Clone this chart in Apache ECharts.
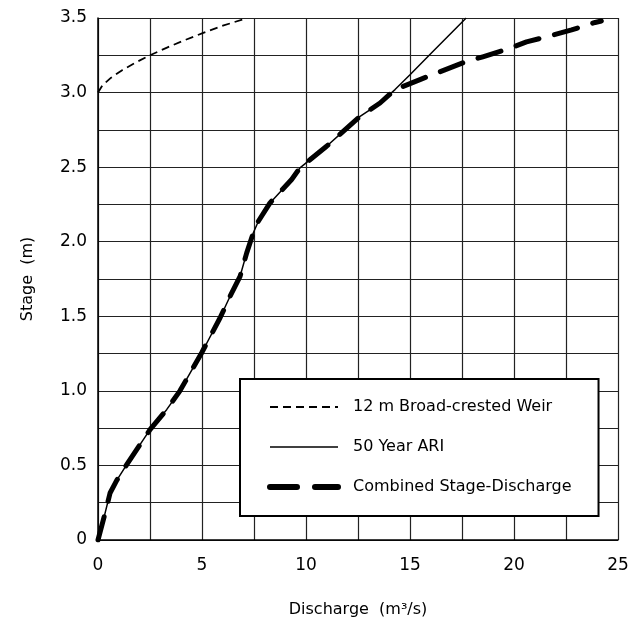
<!DOCTYPE html>
<html>
<head>
<meta charset="utf-8">
<script src="https://cdn.jsdelivr.net/npm/echarts@6/dist/echarts.min.js"></script>
<style>
  html, body { margin: 0; padding: 0; background: #fff; }
  #chart { width: 644px; height: 624px; }
</style>
</head>
<body>
<div id="chart"></div>
<script>
// 12 m broad-crested weir
var weirQ = [0, 0.22, 0.63, 1.16, 1.79, 2.5, 3.29, 4.14, 5.06, 6.04, 6.95];
var weirStage = [3.0, 3.05, 3.1, 3.15, 3.2, 3.25, 3.3, 3.35, 3.4, 3.45, 3.49];

// 50 year ARI
var ariQ = [0, 0.34, 0.58, 0.9, 1.38, 2.02, 2.5, 3.3, 3.94, 4.98, 5.87, 6.35, 6.83, 7.15, 7.47, 7.71, 8.27, 9.31, 9.71, 10.99, 11.79, 12.6, 13.56, 14.28, 15.0, 16.1, 17.7];
var ariStage = [0, 0.18, 0.315, 0.4, 0.505, 0.64, 0.74, 0.874, 1.0, 1.254, 1.49, 1.634, 1.768, 1.925, 2.06, 2.137, 2.26, 2.417, 2.495, 2.64, 2.74, 2.84, 2.93, 3.02, 3.12, 3.275, 3.5];

// combined stage-discharge
var combQ = [0, 0.34, 0.58, 0.9, 1.38, 2.02, 2.5, 3.3, 3.94, 4.98, 5.87, 6.35, 6.83, 7.15, 7.47, 7.71, 8.27, 9.31, 9.71, 10.99, 11.79, 12.6, 13.56, 14.28, 15.48, 16.44, 17.56, 18.5, 19.65, 20.6, 21.73, 22.77, 23.9, 24.2];
var combStage = [0, 0.18, 0.315, 0.4, 0.505, 0.64, 0.74, 0.874, 1.0, 1.254, 1.49, 1.634, 1.768, 1.925, 2.06, 2.137, 2.26, 2.417, 2.495, 2.64, 2.74, 2.84, 2.93, 3.02, 3.087, 3.14, 3.2, 3.24, 3.29, 3.34, 3.38, 3.42, 3.47, 3.48];

var seriesNames = ['12 m Broad-crested Weir', '50 Year ARI', 'Combined Stage-Discharge'];

function pairs(xs, ys) {
  return xs.map(function (x, i) { return [x, ys[i]]; });
}

var font = 'DejaVu Sans';
var weirLine = { color: '#000', width: 1.8, type: [8, 5] };
var ariLine = { color: '#000', width: 1.5, type: 'solid' };
var combLine = { color: '#000', width: 5, type: [24, 16], cap: 'round', join: 'round' };

var chart = echarts.init(document.getElementById('chart'));
chart.setOption({
  animation: false,
  textStyle: { fontFamily: font },
  grid: { left: 98, right: 26, top: 18, bottom: 84 },
  xAxis: {
    type: 'value',
    min: 0, max: 25, interval: 2.5,
    name: 'Discharge  (m³/s)',
    nameLocation: 'middle',
    nameGap: 62,
    nameTextStyle: { color: '#000', fontSize: 16, fontFamily: font },
    axisLine: { lineStyle: { color: '#000', width: 1.5 } },
    axisTick: { show: false },
    axisLabel: {
      color: '#000', fontSize: 17, margin: 17, fontFamily: font,
      formatter: function (v) { return v % 5 === 0 ? String(v) : ''; }
    },
    splitLine: { show: true, lineStyle: { color: '#222', width: 1.2 } }
  },
  yAxis: {
    type: 'value',
    min: 0, max: 3.5, interval: 0.25,
    name: 'Stage  (m)',
    nameLocation: 'middle',
    nameGap: 62,
    nameTextStyle: { color: '#000', fontSize: 16, fontFamily: font },
    axisLine: { show: true, lineStyle: { color: '#000', width: 1.5 } },
    axisTick: { show: false },
    axisLabel: {
      color: '#000', fontSize: 17, margin: 11, fontFamily: font,
      formatter: function (v) {
        if (v === 0) return '0';
        return v % 0.5 === 0 ? v.toFixed(1) : '';
      }
    },
    splitLine: { show: true, lineStyle: { color: '#222', width: 1.2 } }
  },
  legend: {
    orient: 'vertical',
    left: 240, top: 379,
    width: 330,
    padding: [20, 27, 21, 27],
    itemGap: 24,
    itemWidth: 68,
    itemHeight: 14,
    backgroundColor: '#fff',
    borderColor: '#000',
    borderWidth: 2,
    itemStyle: { opacity: 0 },
    textStyle: { color: '#000', fontSize: 16, fontFamily: font, padding: [0, 0, 0, 10] },
    data: [
      { name: seriesNames[0], lineStyle: weirLine },
      { name: seriesNames[1], lineStyle: ariLine },
      { name: seriesNames[2], lineStyle: { color: '#000', width: 6, type: [27, 18], cap: 'round' } }
    ]
  },
  series: [
    {
      name: seriesNames[0], type: 'line', symbol: 'none', smooth: false,
      lineStyle: weirLine,
      data: pairs(weirQ, weirStage)
    },
    {
      name: seriesNames[1], type: 'line', symbol: 'none', smooth: false,
      lineStyle: ariLine,
      data: pairs(ariQ, ariStage)
    },
    {
      name: seriesNames[2], type: 'line', symbol: 'none', smooth: false,
      lineStyle: combLine,
      data: pairs(combQ, combStage)
    }
  ]
});
</script>
</body>
</html>
